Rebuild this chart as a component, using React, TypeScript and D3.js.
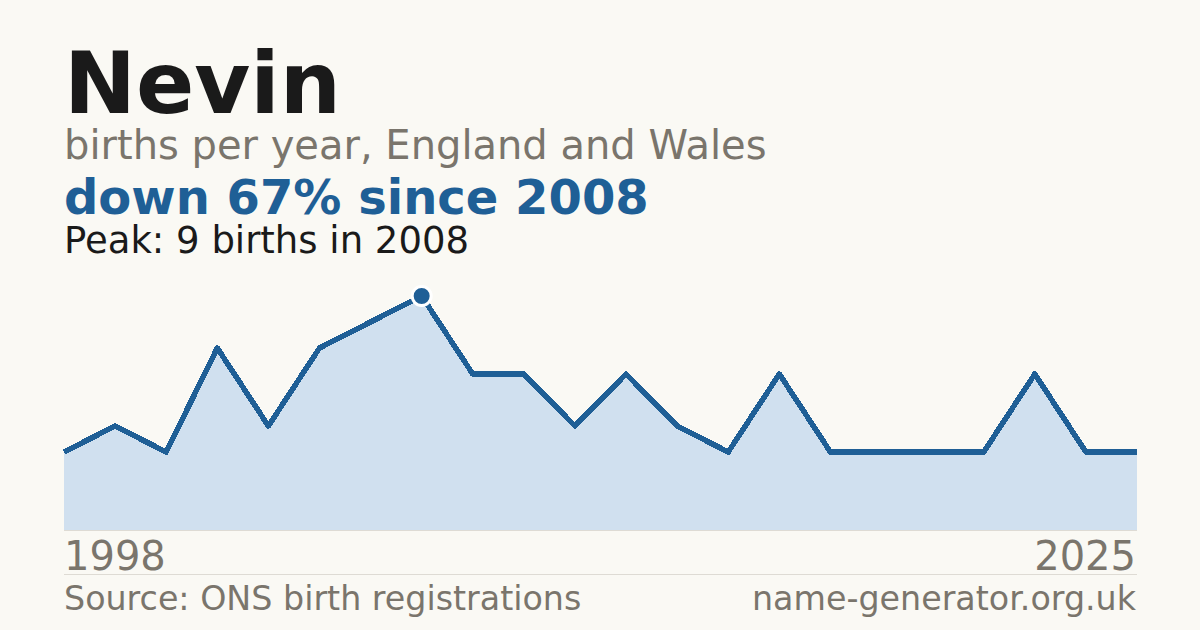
import { useEffect, useRef } from 'react';
import * as d3 from 'd3';

// years with a recorded count (suppressed years are left out)
const years = [
  '1998', '2000', '2001', '2002', '2003', '2005', '2007', '2008',
  '2009', '2010', '2012', '2013', '2014', '2015', '2016', '2018',
  '2019', '2020', '2021', '2023', '2024', '2025',
];
const births = [3, 4, 3, 7, 4, 7, 8, 9, 6, 6, 4, 6, 4, 3, 6, 3, 3, 3, 3, 6, 3, 3];

const title = 'Nevin';
const subtitle = 'births per year, England and Wales';
const headline = 'down 67% since 2008';
const peakNote = 'Peak: 9 births in 2008';
const source = 'Source: ONS birth registrations';
const site = 'name-generator.org.uk';

const W = 1200;
const H = 630;

const App = () => {
  const ref = useRef<SVGSVGElement>(null);

  useEffect(() => {
    document.body.style.margin = '0';
    const svg = d3.select(ref.current);
    svg.selectAll('*').remove();

    const font = "'DejaVu Sans', sans-serif";
    const gray = '#7a756c';
    const blue = '#1f5f96';

    svg.append('rect').attr('width', W).attr('height', H).attr('fill', '#faf9f4');

    const x = d3.scalePoint<string>().domain(years).range([64, 1137]);
    const y = d3.scaleLinear().domain([0, 9]).range([530, 296]);
    const data = years.map((yr, i) => ({ yr, v: births[i] }));

    const area = d3.area<any>()
      .x(d => x(d.yr)!)
      .y0(y(0))
      .y1(d => y(d.v));
    svg.append('path').attr('d', area(data)).attr('fill', '#d0e0ef');

    svg.append('line')
      .attr('x1', 64).attr('x2', 1137).attr('y1', 530.5).attr('y2', 530.5)
      .attr('stroke', '#dedbd4').attr('stroke-width', 1);

    const line = d3.line<any>().x(d => x(d.yr)!).y(d => y(d.v));
    svg.append('path')
      .attr('d', line(data))
      .attr('fill', 'none')
      .attr('stroke', blue)
      .attr('stroke-width', 5.5)
      .attr('stroke-linejoin', 'round')
      .style('shape-rendering', 'crispEdges');

    const peak = data[d3.maxIndex(data, d => d.v)];
    svg.append('circle')
      .attr('cx', x(peak.yr)!).attr('cy', y(peak.v))
      .attr('r', 9.5)
      .attr('fill', blue)
      .attr('stroke', '#ffffff').attr('stroke-width', 3);

    const txt = (s: string, tx: number, ty: number, size: number, fill: string, weight = 'normal', anchor = 'start') =>
      svg.append('text')
        .attr('x', tx).attr('y', ty)
        .attr('font-family', font)
        .attr('font-size', size)
        .attr('font-weight', weight)
        .attr('fill', fill)
        .attr('text-anchor', anchor)
        .text(s);

    txt(title, 64, 113, 86, '#1a1a1a', 'bold');
    txt(subtitle, 64, 159, 40, gray);
    txt(headline, 64, 214, 48, blue, 'bold');
    txt(peakNote, 64, 253, 37, '#1a1a1a');

    txt(years[0], 64, 570, 40, gray);
    txt(years[years.length - 1], 1136, 570, 40, gray, 'normal', 'end');

    svg.append('line')
      .attr('x1', 64).attr('x2', 1137).attr('y1', 574.5).attr('y2', 574.5)
      .attr('stroke', '#dedbd4').attr('stroke-width', 1);

    txt(source, 64, 610, 33.3, gray);
    txt(site, 1136, 610, 33.3, gray, 'normal', 'end');
  }, []);

  return <svg ref={ref} width={W} height={H} style={{ display: 'block' }}></svg>;
};

export default App;
